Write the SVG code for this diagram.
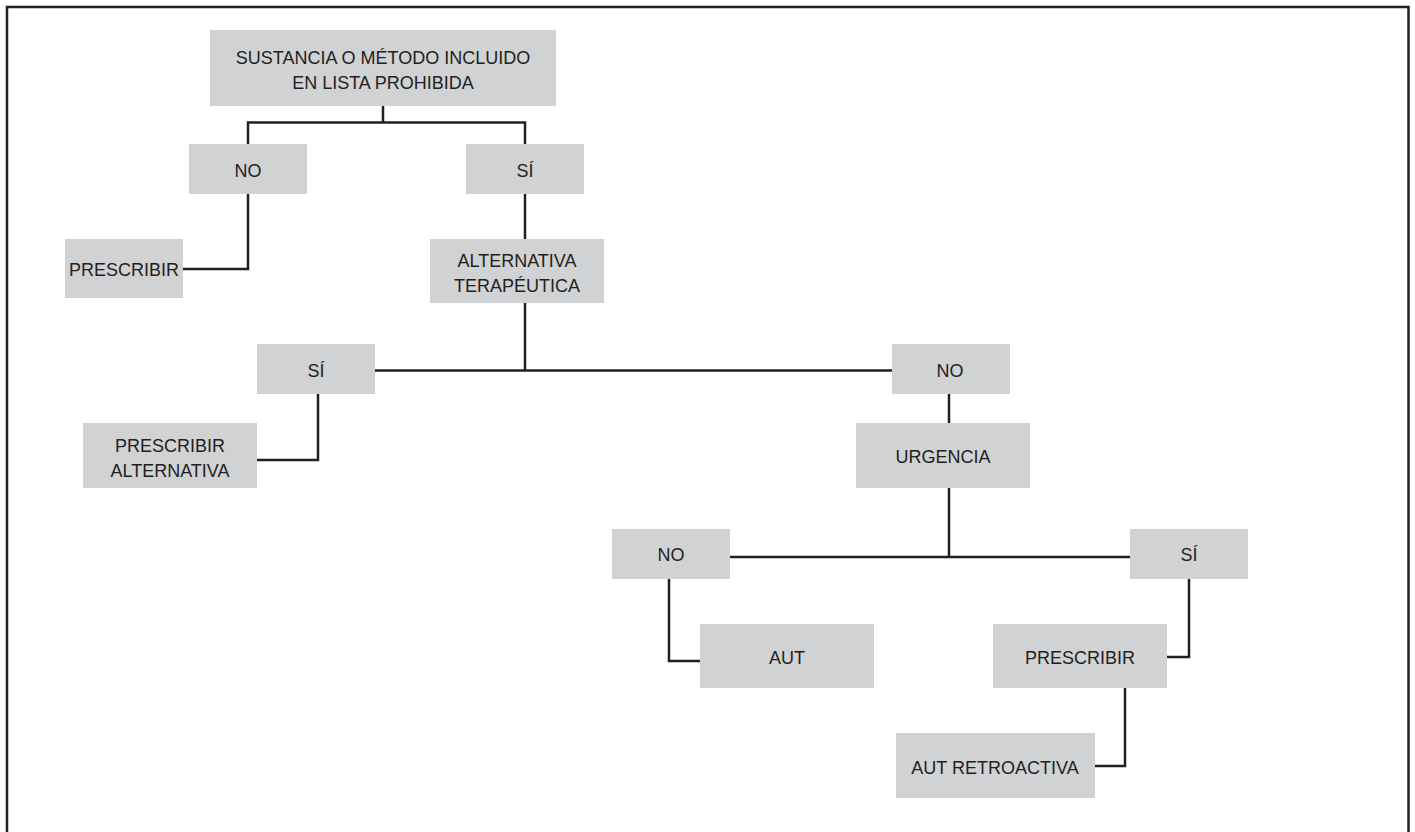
<svg xmlns="http://www.w3.org/2000/svg" width="1415" height="832" viewBox="0 0 1415 832">
<style>
.box{fill:#d1d2d4}
.t{font-family:"Liberation Sans",Arial,sans-serif;font-size:18px;fill:#231f20;text-anchor:middle}
.c{fill:none;stroke:#231f20;stroke-width:2.5;stroke-linejoin:miter}
</style>
<rect width="1415" height="832" fill="#ffffff"/>
<path class="c" d="M7 834 V7 H1408.5 V834"/>
<g id="connectors">
<path class="c" d="M383 106 V122.5"/>
<path class="c" d="M248 144 V122.5 H525 V144"/>
<path class="c" d="M248 194 V269 H183"/>
<path class="c" d="M525 194 V239"/>
<path class="c" d="M525 303 V370.5"/>
<path class="c" d="M375 370.5 H892"/>
<path class="c" d="M318 394 V460 H257"/>
<path class="c" d="M949 394 V423"/>
<path class="c" d="M949 488 V557"/>
<path class="c" d="M730 557 H1130"/>
<path class="c" d="M669 579 V661 H700"/>
<path class="c" d="M1189 579 V657 H1167"/>
<path class="c" d="M1125 688 V766 H1095"/>
</g>
<g id="n-sustancia"><rect class="box" x="210" y="30" width="346" height="76"/><text class="t" x="383" y="64">SUSTANCIA O MÉTODO INCLUIDO</text><text class="t" x="383" y="89">EN LISTA PROHIBIDA</text></g>
<g id="n-no1"><rect class="box" x="189" y="144" width="118" height="50"/><text class="t" x="248" y="177">NO</text></g>
<g id="n-si1"><rect class="box" x="466" y="144" width="118" height="50"/><text class="t" x="525" y="177">SÍ</text></g>
<g id="n-prescribir1"><rect class="box" x="65" y="239" width="118" height="59"/><text class="t" x="124" y="276">PRESCRIBIR</text></g>
<g id="n-alternativa"><rect class="box" x="430" y="239" width="174" height="64"/><text class="t" x="517" y="267">ALTERNATIVA</text><text class="t" x="517" y="292">TERAPÉUTICA</text></g>
<g id="n-si2"><rect class="box" x="257" y="344" width="118" height="50"/><text class="t" x="316" y="377">SÍ</text></g>
<g id="n-no2"><rect class="box" x="892" y="344" width="118" height="50"/><text class="t" x="950" y="377">NO</text></g>
<g id="n-prescribir-alt"><rect class="box" x="83" y="423" width="174" height="65"/><text class="t" x="170" y="452">PRESCRIBIR</text><text class="t" x="170" y="477">ALTERNATIVA</text></g>
<g id="n-urgencia"><rect class="box" x="856" y="423" width="174" height="65"/><text class="t" x="943" y="463">URGENCIA</text></g>
<g id="n-no3"><rect class="box" x="612" y="529" width="118" height="50"/><text class="t" x="671" y="561">NO</text></g>
<g id="n-si3"><rect class="box" x="1130" y="529" width="118" height="50"/><text class="t" x="1189" y="561">SÍ</text></g>
<g id="n-aut"><rect class="box" x="700" y="624" width="174" height="64"/><text class="t" x="787" y="664">AUT</text></g>
<g id="n-prescribir2"><rect class="box" x="993" y="624" width="174" height="64"/><text class="t" x="1080" y="664">PRESCRIBIR</text></g>
<g id="n-aut-retro"><rect class="box" x="896" y="733" width="199" height="65"/><text class="t" x="995" y="774">AUT RETROACTIVA</text></g>
</svg>
